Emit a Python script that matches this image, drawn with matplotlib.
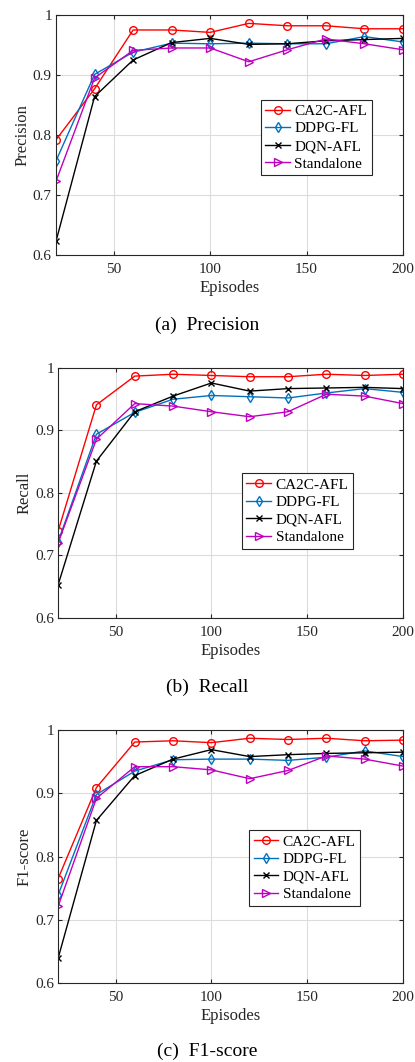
import numpy as np
import matplotlib
matplotlib.use('Agg')
import matplotlib.pyplot as plt

plt.rcParams['font.family'] = ['Liberation Serif', 'DejaVu Serif']
plt.rcParams['mathtext.fontset'] = 'stix'

# data
episodes = [20, 40, 60, 80, 100, 120, 140, 160, 180, 200]
methods = ['CA2C-AFL', 'DDPG-FL', 'DQN-AFL', 'Standalone']

precision = {
    'CA2C-AFL':   [0.792, 0.877, 0.975, 0.975, 0.971, 0.986, 0.982, 0.982, 0.977, 0.977],
    'DDPG-FL':    [0.757, 0.901, 0.938, 0.953, 0.952, 0.953, 0.952, 0.952, 0.964, 0.955],
    'DQN-AFL':    [0.623, 0.864, 0.925, 0.954, 0.961, 0.951, 0.952, 0.957, 0.959, 0.961],
    'Standalone': [0.723, 0.895, 0.941, 0.945, 0.945, 0.922, 0.942, 0.960, 0.952, 0.942],
}
recall = {
    'CA2C-AFL':   [0.739, 0.941, 0.987, 0.990, 0.988, 0.986, 0.986, 0.990, 0.988, 0.990],
    'DDPG-FL':    [0.722, 0.894, 0.929, 0.950, 0.956, 0.954, 0.952, 0.960, 0.967, 0.961],
    'DQN-AFL':    [0.653, 0.851, 0.930, 0.955, 0.976, 0.963, 0.967, 0.968, 0.969, 0.967],
    'Standalone': [0.720, 0.886, 0.943, 0.939, 0.930, 0.922, 0.930, 0.958, 0.955, 0.943],
}
f1 = {
    'CA2C-AFL':   [0.765, 0.909, 0.981, 0.983, 0.980, 0.987, 0.985, 0.987, 0.983, 0.984],
    'DDPG-FL':    [0.739, 0.898, 0.935, 0.953, 0.954, 0.954, 0.952, 0.957, 0.967, 0.958],
    'DQN-AFL':    [0.639, 0.857, 0.928, 0.954, 0.969, 0.958, 0.961, 0.963, 0.964, 0.965],
    'Standalone': [0.721, 0.892, 0.942, 0.942, 0.937, 0.923, 0.936, 0.959, 0.954, 0.943],
}

styles = {
    'CA2C-AFL':   dict(color=(1, 0, 0), marker='o', ms=5.5),
    'DDPG-FL':    dict(color=(0, 0.447, 0.741), marker='d', ms=5.5),
    'DQN-AFL':    dict(color='black', marker='x', ms=4.5),
    'Standalone': dict(color=(0.75, 0, 0.75), marker='>', ms=5.5),
}

panels = [
    (precision, 'Precision', '(a)  Precision', [0.135, 0.7599, 0.836, 0.226], (0.59, 0.647), 325),
    (recall, 'Recall', '(b)  Recall', [0.140, 0.4181, 0.831, 0.2354], (0.533, 0.578), 687),
    (f1, 'F1-score', '(c)  F1-score', [0.140, 0.0744, 0.831, 0.2382], (0.554, 0.603), 1051),
]

fig = plt.figure(figsize=(4.15, 10.62), dpi=100)

for data, ylabel, caption, rect, leg_pos, cap_y in panels:
    ax = fig.add_axes(rect)
    for m in methods:
        st = styles[m]
        ax.plot(episodes, data[m], color=st['color'], marker=st['marker'],
                markersize=st['ms'], markerfacecolor='none',
                markeredgewidth=1.0, linewidth=1.0, label=m)
    ax.set_xlim(20, 200)
    ax.set_ylim(0.6, 1.0)
    ax.set_xticks([50, 100, 150, 200])
    ax.set_yticks([0.6, 0.7, 0.8, 0.9, 1.0])
    ax.set_yticklabels(['0.6', '0.7', '0.8', '0.9', '1'])
    ax.grid(True, color='#dcdcdc', linewidth=0.8)
    ax.set_axisbelow(True)
    ax.tick_params(direction='in', top=True, right=True, labelsize=11,
                   colors='#262626', length=3)
    ax.tick_params(axis='x', pad=6)
    ax.tick_params(axis='y', pad=3)
    for sp in ax.spines.values():
        sp.set_color('#262626')
        sp.set_linewidth(0.8)
    ax.set_xlabel('Episodes', fontsize=12, color='#262626', labelpad=3)
    ax.set_ylabel(ylabel, fontsize=12, color='#262626', labelpad=2)
    leg = ax.legend(loc='upper left', bbox_to_anchor=leg_pos, fontsize=11,
                    fancybox=False, framealpha=1, edgecolor='#262626',
                    handlelength=1.6, handletextpad=0.3, borderpad=0.3,
                    labelspacing=0.25, borderaxespad=0)
    leg.get_frame().set_linewidth(0.8)
    fig.text(0.5, 1 - cap_y / 1062, caption, ha='center', va='center',
             fontsize=14, color='black')

fig.savefig('out.png', dpi=100)
